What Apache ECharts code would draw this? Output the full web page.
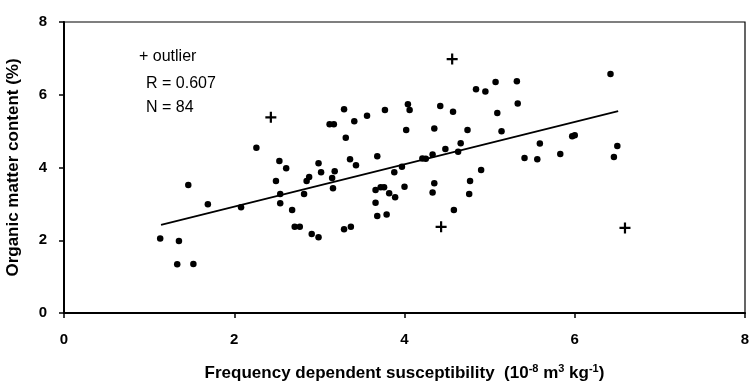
<!DOCTYPE html>
<html>
<head>
<meta charset="utf-8">
<script src="https://cdn.jsdelivr.net/npm/echarts@6/dist/echarts.min.js"></script>
<style>html,body{margin:0;padding:0;background:#fff}#c{width:750px;height:384px}</style>
</head>
<body>
<div id="c"></div>
<script>
// Frequency dependent susceptibility (x) and organic matter content (y)
const sampleX = [1.13,1.35,1.33,1.52,1.46,1.69,2.08,2.26,2.53,2.61,2.49,2.54,2.54,2.68,2.71,2.77,2.91,2.99,2.82,2.85,2.88,2.99,3.02,3.15,3.18,3.16,3.29,3.37,3.36,3.43,3.12,3.17,3.29,3.31,3.41,3.56,3.77,3.68,3.66,3.72,3.76,3.82,3.66,3.68,3.79,3.97,3.88,4.00,3.89,4.35,4.33,4.90,4.77,4.76,4.58,4.04,4.06,4.42,4.57,5.09,4.02,4.35,4.74,5.14,4.66,4.48,4.63,4.33,4.21,4.25,4.84,4.95,5.07,5.32,5.33,6.42,5.59,5.97,6.00,5.41,5.56,5.83,6.50,6.46];
const sampleY = [2.05,1.98,1.34,1.35,3.52,2.99,2.91,4.54,4.18,3.98,3.63,3.27,3.02,2.83,2.37,2.37,2.17,2.08,3.27,3.63,3.74,4.12,3.87,3.71,3.90,3.43,2.30,2.37,4.23,4.06,5.19,5.19,5.60,4.82,5.27,5.42,5.58,4.31,3.38,3.46,3.46,3.29,3.03,2.67,2.71,4.02,3.87,3.47,3.18,3.57,3.31,3.93,3.63,3.27,2.83,5.74,5.58,5.69,5.53,5.50,5.03,5.07,5.03,5.00,4.67,4.51,4.43,4.36,4.25,4.24,6.15,6.09,6.35,6.37,5.76,6.57,4.66,4.86,4.89,4.26,4.23,4.37,4.59,4.29];
const outlierX = [2.43,4.56,4.43,6.59];
const outlierY = [5.38,6.98,2.37,2.34];
const fitX = [1.14,6.51];
const fitY = [2.42,5.55];
const xTicks = [0,2,4,6,8];
const yTicks = [0,2,4,6,8];

const zip = (a,b)=>a.map((v,i)=>[v,b[i]]);
const font = 'Liberation Sans, Arial, sans-serif';
const chart = echarts.init(document.getElementById('c'));
chart.setOption({
  animation:false,
  backgroundColor:'#fff',
  grid:{left:64,right:5,top:22,bottom:71,show:true,borderColor:'#000',borderWidth:1.2,outerBoundsMode:'none',containLabel:false},
  xAxis:{
    type:'value',min:xTicks[0],max:xTicks[xTicks.length-1],interval:2,
    axisLine:{show:true,lineStyle:{color:'#000',width:2}},
    axisTick:{show:true,length:5,lineStyle:{color:'#000',width:1.5}},
    splitLine:{show:false},
    axisLabel:{color:'#000',fontFamily:font,fontWeight:'bold',fontSize:15,margin:19},
    name:'{n|Frequency dependent susceptibility  (10}{s|-8}{n| m}{s|3}{n| kg}{s|-1}{n|)}',
    nameLocation:'middle',nameGap:50,
    nameTextStyle:{rich:{
      n:{fontFamily:font,fontSize:17,fontWeight:'bold',color:'#000'},
      s:{fontFamily:font,fontSize:11,fontWeight:'bold',color:'#000',verticalAlign:'top',padding:[0,0,9,0]}
    }}
  },
  yAxis:{
    type:'value',min:yTicks[0],max:yTicks[yTicks.length-1],interval:2,
    axisLine:{show:true,lineStyle:{color:'#000',width:2}},
    axisTick:{show:true,length:5,lineStyle:{color:'#000',width:1.5}},
    splitLine:{show:false},
    axisLabel:{color:'#000',fontFamily:font,fontWeight:'bold',fontSize:15,margin:17},
    name:'Organic matter content (%)',nameLocation:'middle',nameGap:42,
    nameTextStyle:{fontFamily:font,fontSize:17,fontWeight:'bold',color:'#000'}
  },
  graphic:[
    {type:'text',left:139,top:49,style:{text:'+ outlier',font:'16px '+font,fill:'#000'}},
    {type:'text',left:146,top:76,style:{text:'R = 0.607',font:'16px '+font,fill:'#000'}},
    {type:'text',left:146,top:100,style:{text:'N = 84',font:'16px '+font,fill:'#000'}}
  ],
  series:[
    {type:'line',data:zip(fitX,fitY),symbol:'none',lineStyle:{color:'#000',width:1.8},z:2},
    {type:'scatter',data:zip(sampleX,sampleY),symbol:'circle',symbolSize:6.5,itemStyle:{color:'#000',opacity:1},z:3},
    {type:'scatter',data:zip(outlierX,outlierY),symbol:'path://M4,0H6V4H10V6H6V10H4V6H0V4H4Z',symbolSize:11,itemStyle:{color:'#000',opacity:1},z:3}
  ]
});
</script>
</body>
</html>
